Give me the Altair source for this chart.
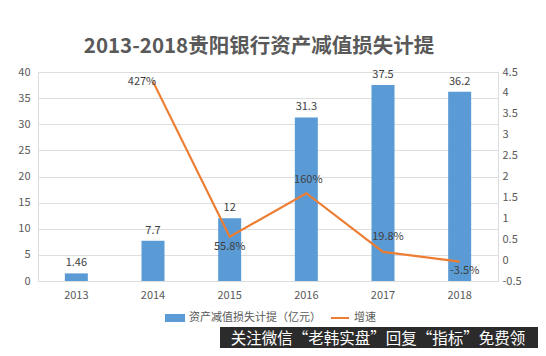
import altair as alt
import pandas as pd

years = ["2013", "2014", "2015", "2016", "2017", "2018"]
provision = [1.46, 7.7, 12, 31.3, 37.5, 36.2]
provision_labels = ["1.46", "7.7", "12", "31.3", "37.5", "36.2"]

growth_years = ["2014", "2015", "2016", "2017", "2018"]
growth = [4.27, 0.558, 1.60, 0.198, -0.035]
growth_labels = ["427%", "55.8%", "160%", "19.8%", "-3.5%"]

left_ticks = [0, 5, 10, 15, 20, 25, 30, 35, 40]
right_ticks = [-0.5, 0, 0.5, 1, 1.5, 2, 2.5, 3, 3.5, 4, 4.5]

bar_name = "资产减值损失计提（亿元）"
line_name = "增速"
title_text = "2013-2018贵阳银行资产减值损失计提"
watermark = "关注微信“老韩实盘”回复“指标”免费领"

bars_df = pd.DataFrame({"year": years, "value": provision, "label": provision_labels, "s": bar_name})
line_df = pd.DataFrame({"year": growth_years, "value": growth, "label": growth_labels, "s": line_name})

FONT = "Noto Sans CJK SC"
GRAY = "#595959"
BLUE = "#5B9BD5"
ORANGE = "#ED7D31"

xscale = alt.Scale(domain=years, paddingInner=0.7, paddingOuter=0.35)
xenc = alt.X("year:N", scale=xscale, sort=years,
             axis=alt.Axis(title=None, labelAngle=0, domain=False, ticks=False,
                           labelPadding=8, labelFontSize=11, labelColor=GRAY, labelFont=FONT))

yl = alt.Y("value:Q", scale=alt.Scale(domain=[0, 40], nice=False),
           axis=alt.Axis(title=None, values=left_ticks, orient="left", grid=True,
                         gridColor="#DEDEDE", domain=False, ticks=False, labelPadding=8,
                         labelOverlap=False, labelFontSize=11, labelColor=GRAY, labelFont=FONT))

yr = alt.Y("value:Q", scale=alt.Scale(domain=[-0.5, 4.5], nice=False),
           axis=alt.Axis(title=None, values=right_ticks,
                         orient="right", grid=False, domain=False, ticks=False, labelPadding=4,
                         labelOverlap=False, labelExpr="toString(datum.value)",
                         labelFontSize=11, labelColor=GRAY, labelFont=FONT))

bars = alt.Chart(bars_df).mark_bar(color=BLUE).encode(
    x=xenc,
    y=yl,
    fill=alt.Fill("s:N", scale=alt.Scale(domain=[bar_name], range=[BLUE]),
                  legend=alt.Legend(title=None, orient="none", legendX=127, legendY=236,
                                    symbolType="M-1,-0.4H1V0.4H-1Z", symbolSize=400,
                                    labelFontSize=11, labelColor=GRAY, labelFont=FONT,
                                    symbolStrokeWidth=0, labelLimit=300)),
)
bar_text = alt.Chart(bars_df).mark_text(dy=-10, fontSize=11, color="#404040", font=FONT).encode(
    x=xenc, y=yl, text="label:N")

line = alt.Chart(line_df).mark_line(strokeWidth=2.2).encode(
    x=xenc,
    y=yr,
    stroke=alt.Stroke("s:N", scale=alt.Scale(domain=[line_name], range=[ORANGE]),
                      legend=alt.Legend(title=None, orient="none", legendX=292, legendY=236,
                                        symbolType="stroke", symbolSize=324, symbolStrokeWidth=2,
                                        labelFontSize=11, labelColor=GRAY, labelFont=FONT)),
)

offsets = {"2014": (-11, 0), "2015": (0, 10), "2016": (2, -13), "2017": (5, -15), "2018": (5, 9)}
line_texts = []
for yv, (dx, dy) in offsets.items():
    line_texts.append(
        alt.Chart(line_df).transform_filter(alt.datum.year == yv)
        .mark_text(dx=dx, dy=dy, fontSize=11, color="#404040", font=FONT)
        .encode(x=xenc, y=yr, text="label:N")
    )

wm_df = pd.DataFrame({"t": [watermark]})
wm_rect = alt.Chart(wm_df).mark_rect(color="#2B2B2B").encode(
    x=alt.value(182), x2=alt.value(510), y=alt.value(255), y2=alt.value(290))
wm_text = alt.Chart(wm_df).mark_text(color="white", fontSize=15.5, font=FONT, align="center",
                                     baseline="middle").encode(
    x=alt.value(340), y=alt.value(267), text="t:N")

left = alt.layer(bars, bar_text)
right = alt.layer(line, *line_texts)

chart = alt.layer(left, right, wm_rect, wm_text).resolve_scale(
    y="independent", fill="independent", stroke="independent"
).properties(
    width=460, height=209,
    title=alt.TitleParams(title_text, fontSize=20.5, fontWeight="bold", color=GRAY, font=FONT,
                          anchor="middle", dx=-9, offset=9),
    autosize=alt.AutoSizeParams(type="none"),
    padding={"left": 30, "top": 64, "right": 40, "bottom": 67},
).configure_view(stroke=None).configure(background="white")

chart.save("out.html", embed_options={"renderer": "svg", "actions": False})
